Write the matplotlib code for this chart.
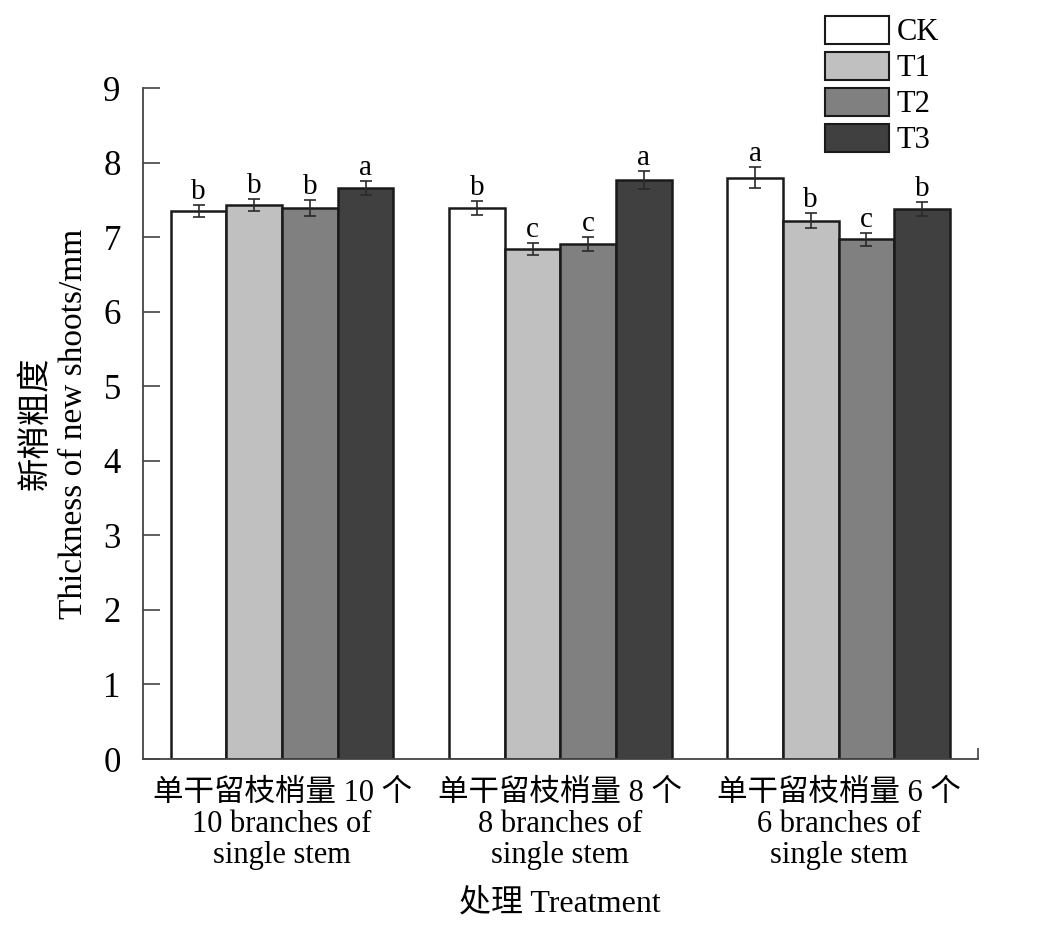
import matplotlib
matplotlib.use("Agg")
import matplotlib.pyplot as plt
import numpy as np

plt.rcParams['font.family'] = ['Liberation Serif', 'Noto Sans CJK SC']

# data
groups = ["单干留枝梢量 10 个\n10 branches of\nsingle stem",
          "单干留枝梢量 8 个\n8 branches of\nsingle stem",
          "单干留枝梢量 6 个\n6 branches of\nsingle stem"]
treatments = ["CK", "T1", "T2", "T3"]
means = {
    "CK": [7.35, 7.39, 7.80],
    "T1": [7.43, 6.84, 7.22],
    "T2": [7.39, 6.91, 6.97],
    "T3": [7.66, 7.77, 7.38],
}
errors = {
    "CK": [0.08, 0.09, 0.14],
    "T1": [0.08, 0.08, 0.10],
    "T2": [0.11, 0.09, 0.09],
    "T3": [0.10, 0.12, 0.09],
}
letters = {
    "CK": ["b", "b", "a"],
    "T1": ["b", "c", "b"],
    "T2": ["b", "c", "c"],
    "T3": ["a", "a", "b"],
}
colors = {"CK": "#ffffff", "T1": "#c0c0c0", "T2": "#808080", "T3": "#404040"}

fig = plt.figure(figsize=(10.39, 9.27), dpi=100)
ax = fig.add_axes([0.1376, 0.1812, 0.8034, 0.7238])

x = np.arange(len(groups))
width = 0.2
for k, t in enumerate(treatments):
    pos = x + (k - 1.5) * width
    ax.bar(pos, means[t], width, color=colors[t], edgecolor="#1a1a1a",
           linewidth=1.8, label=t, zorder=2)
    ax.errorbar(pos, means[t], yerr=errors[t], fmt="none", ecolor="#2a2a2a",
                elinewidth=1.2, capsize=4.3, capthick=1.2, zorder=3)
    for p, m, e, s in zip(pos, means[t], errors[t], letters[t]):
        ax.annotate(s, (p, m + e), xytext=(0, 0), textcoords="offset points",
                    ha="center", va="bottom", fontsize=21)

ax.set_xlim(-0.5, 2.5)
ax.set_ylim(0, 9)
ax.set_yticks(range(0, 10))
ax.set_xticks(x)
ax.set_xticklabels(groups, fontsize=22, linespacing=1.1)
ax.set_xticks([2.5], minor=True)
ax.tick_params(axis="x", which="major", length=0, pad=14)
ax.tick_params(axis="x", which="minor", direction="in", length=8, width=1.2,
               color="#444444")
ax.tick_params(axis="y", direction="in", length=12, width=1.2, pad=16,
               labelsize=25, color="#444444")

for side in ["top", "right"]:
    ax.spines[side].set_visible(False)
for side in ["left", "bottom"]:
    ax.spines[side].set_linewidth(1.3)
    ax.spines[side].set_color("#444444")

ax.set_ylabel("新梢粗度\nThickness of new shoots/mm", fontsize=24,
              linespacing=1.3, labelpad=10)
ax.set_xlabel("处理 Treatment", fontsize=23, labelpad=14)

leg = fig.legend(loc="upper left", bbox_to_anchor=(0.794, 0.983),
                 frameon=False, fontsize=22, handlelength=2.1,
                 handleheight=1.03, labelspacing=0.15, handletextpad=0.25,
                 borderpad=0, borderaxespad=0)
for h in leg.legend_handles:
    h.set_edgecolor("#1a1a1a")
    h.set_linewidth(1.5)

fig.savefig("out.png", dpi=100)
